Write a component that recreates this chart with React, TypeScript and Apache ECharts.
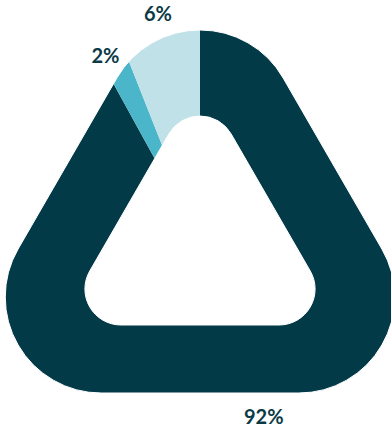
import React, { useEffect, useRef } from 'react';
import * as echarts from 'echarts';

const categories = ['Segment A', 'Segment B', 'Segment C'];
const values = [92, 2, 6];
const colors = ['#033a47', '#4bb6c9', '#c1e1e8'];
const labelShift = [
  [12, -26],
  [-6, 2],
  [-3, -24],
];

const W = 391;
const H = 428;
const CX = 200;
const CY = 241;

function roundedTriangle(cx: number, yA: number, yB: number, r: number): string {
  const h = yB - yA;
  const half = h / Math.sqrt(3);
  const T = [cx, yA];
  const L = [cx - half, yB];
  const R = [cx + half, yB];
  const d = r * Math.sqrt(3);
  const pt = (a: number[], b: number[], dist: number) => {
    const dx = b[0] - a[0];
    const dy = b[1] - a[1];
    const len = Math.hypot(dx, dy);
    return [a[0] + (dx / len) * dist, a[1] + (dy / len) * dist];
  };
  const p1 = pt(T, L, d);
  const p2 = pt(L, T, d);
  const p3 = pt(L, R, d);
  const p4 = pt(R, L, d);
  const p5 = pt(R, T, d);
  const p6 = pt(T, R, d);
  const f = (p: number[]) => `${p[0].toFixed(2)} ${p[1].toFixed(2)}`;
  return `M${f(p1)} L${f(p2)} A${r} ${r} 0 0 0 ${f(p3)} L${f(p4)} A${r} ${r} 0 0 0 ${f(p5)} L${f(p6)} A${r} ${r} 0 0 0 ${f(p1)} Z`;
}

const outerTri = roundedTriangle(CX, -66, 393, 96);
const innerTri = roundedTriangle(CX, 80, 325, 36);
const maskD = `M-20 -20 L${W + 20} -20 L${W + 20} ${H + 20} L-20 ${H + 20} Z ` + outerTri;

echarts.graphic.registerShape('ringMaskOuter', echarts.graphic.extendPath(maskD, {}));
echarts.graphic.registerShape('ringMaskInner', echarts.graphic.extendPath(innerTri, {}));

export default function App() {
  const ref = useRef<HTMLDivElement>(null);
  useEffect(() => {
    document.body.style.margin = '0';
    if (!ref.current) return;
    const chart = echarts.init(ref.current, undefined, { renderer: 'svg' });
    const data = values.map((v, i) => ({ name: categories[i], value: v, itemStyle: { color: colors[i] } }));
    chart.setOption({
      animation: false,
      series: [
        {
          type: 'pie',
          z: 2,
          center: [CX, CY],
          radius: [0, 240],
          startAngle: 90,
          clockwise: true,
          silent: true,
          avoidLabelOverlap: false,
          label: { show: false },
          labelLine: { show: false },
          itemStyle: { borderWidth: 0 },
          data,
        },
        {
          type: 'pie',
          z: 10,
          center: [CX, CY],
          radius: [185, 225],
          startAngle: 90,
          clockwise: true,
          silent: true,
          avoidLabelOverlap: false,
          itemStyle: { color: 'rgba(0,0,0,0)', borderWidth: 0 },
          labelLine: { show: false },
          label: {
            show: true,
            position: 'inside',
            formatter: (p: any) => `${p.value}%`,
            fontFamily: 'Lato',
            fontWeight: 700,
            fontSize: 20,
            color: '#0b3a46',
          },
          labelLayout: (p: any) => ({ dx: labelShift[p.dataIndex][0], dy: labelShift[p.dataIndex][1] }),
          data: values.map((v, i) => ({ name: categories[i], value: v })),
        },
      ],
      graphic: {
        elements: [
          {
            type: 'ringMaskOuter',
            x: 0,
            y: 0,
            z: 5,
            silent: true,
            style: { fill: '#ffffff', stroke: '#ffffff', lineWidth: 1 },
          },
          {
            type: 'ringMaskInner',
            x: 0,
            y: 0,
            z: 5,
            silent: true,
            style: { fill: '#ffffff', stroke: '#ffffff', lineWidth: 1 },
          },
        ],
      },
    });
    return () => chart.dispose();
  }, []);
  return <div ref={ref} style={{ width: W, height: H }} />;
}
